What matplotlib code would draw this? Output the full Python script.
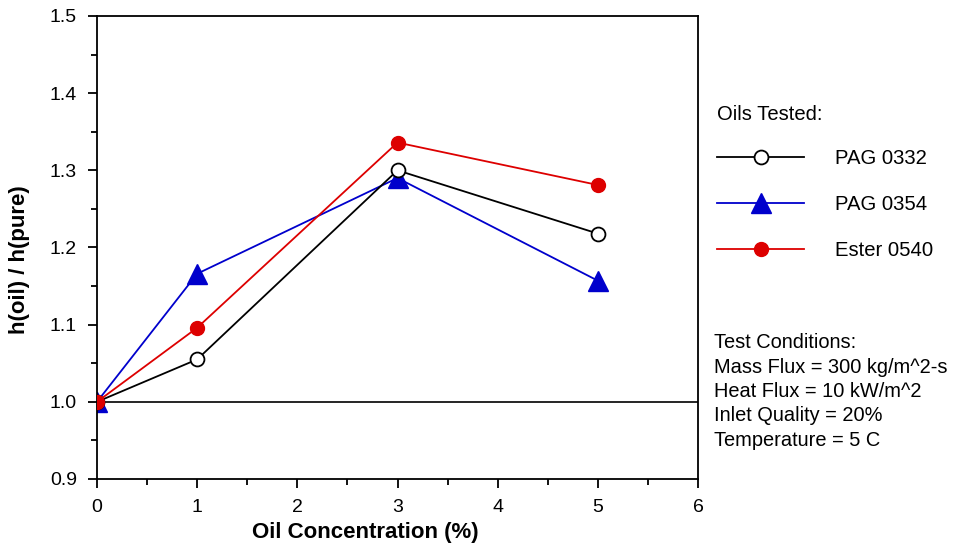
import matplotlib
matplotlib.use('Agg')
import matplotlib.pyplot as plt
from matplotlib.ticker import MultipleLocator

plt.rcParams['font.family'] = ['Liberation Sans', 'DejaVu Sans']

# data
concentration = [0, 1, 3, 5]
pag0332 = [1.0, 1.055, 1.300, 1.218]
pag0354 = [1.0, 1.166, 1.290, 1.157]
ester0540 = [1.0, 1.096, 1.336, 1.281]
series_names = ['PAG 0332', 'PAG 0354', 'Ester 0540']
conditions = ['Test Conditions:',
              'Mass Flux = 300 kg/m^2-s',
              'Heat Flux = 10 kW/m^2',
              'Inlet Quality = 20%',
              'Temperature = 5 C']

W, H = 957, 545
fig = plt.figure(figsize=(W / 100, H / 100), dpi=100)
ax = fig.add_axes([97 / W, 1 - 479 / H, (698 - 97) / W, (479 - 16) / H])

ax.axhline(1.0, color='black', linewidth=1.2, zorder=1)

l1, = ax.plot(concentration, pag0332, color='black', linewidth=1.3, marker='o',
              markersize=10, markerfacecolor='white', markeredgecolor='black',
              markeredgewidth=1.3, zorder=3)
l2, = ax.plot(concentration, pag0354, color='#0000CC', linewidth=1.3, marker='^',
              markersize=14, markerfacecolor='#0000CC', markeredgecolor='#0000CC',
              zorder=2)
l3, = ax.plot(concentration, ester0540, color='#DD0000', linewidth=1.3, marker='o',
              markersize=10, markerfacecolor='#DD0000', markeredgecolor='#DD0000',
              zorder=4)

ax.set_xlim(0, 6)
ax.set_ylim(0.9, 1.5)
ax.xaxis.set_major_locator(MultipleLocator(1))
ax.xaxis.set_minor_locator(MultipleLocator(0.5))
ax.yaxis.set_major_locator(MultipleLocator(0.1))
ax.yaxis.set_minor_locator(MultipleLocator(0.05))
ax.yaxis.set_major_formatter(plt.FormatStrFormatter('%.1f'))
ax.tick_params(which='major', direction='out', length=6.5, width=1.3, labelsize=14, pad=8)
ax.tick_params(which='minor', direction='out', length=4, width=1.3)
for s in ax.spines.values():
  s.set_linewidth(1.3)
ax.set_xlabel('Oil Concentration (%)', fontsize=16, fontweight='bold')
ax.set_ylabel('h(oil) / h(pure)', fontsize=16, fontweight='bold')
ax.xaxis.set_label_coords(0.446, -0.093)
ax.yaxis.set_label_coords(-0.112, 0.473)

leg = ax.legend([l1, l2, l3], series_names, title='Oils Tested:', frameon=False,
                loc='upper left', bbox_to_anchor=(709 / W, 1 - 97 / H),
                bbox_transform=fig.transFigure, fontsize=14.6, title_fontsize=14.6,
                handlelength=4.3, handletextpad=1.5, labelspacing=1.32,
                alignment='left', borderaxespad=0)
leg._legend_box.sep = 18

for i, line in enumerate(conditions):
  fig.text(714 / W, 1 - (343 + 24.3 * i) / H, line, fontsize=14.4, va='center', ha='left')

fig.savefig('out.png', dpi=100)
